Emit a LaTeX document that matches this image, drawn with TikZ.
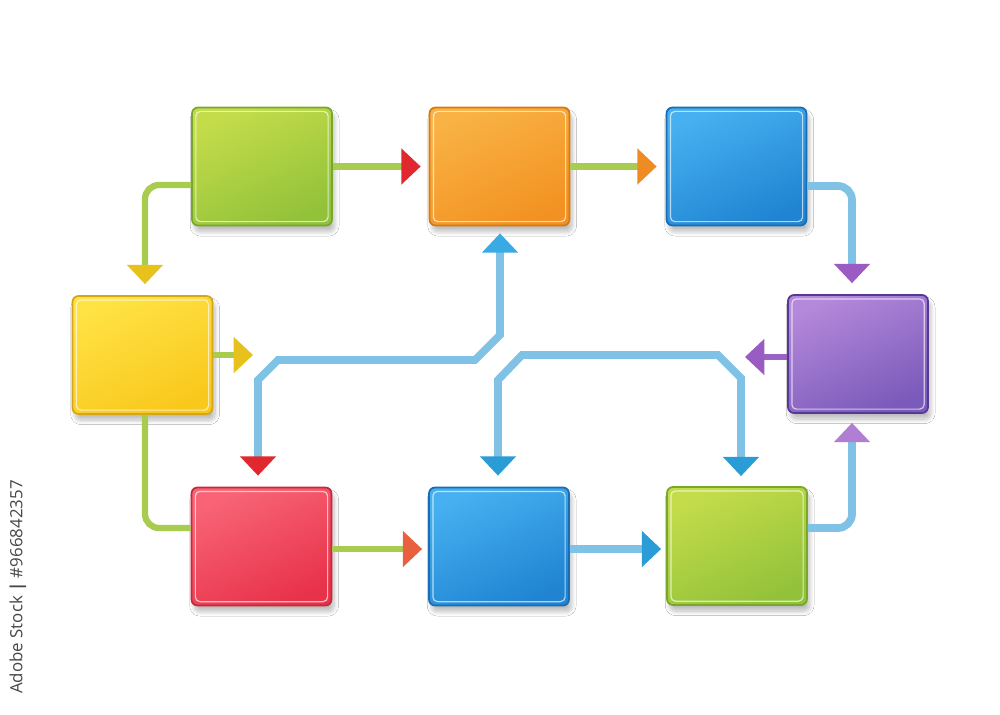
\documentclass[tikz,border=0pt]{standalone}
\usepackage{fontspec}
\newfontfamily\wmfont{Open Sans}
\usetikzlibrary{arrows.meta,calc,shadows.blur}
\definecolor{grA}{HTML}{C4DC4A}\definecolor{grB}{HTML}{92C23A}\definecolor{grD}{HTML}{78A82A}
\definecolor{orA}{HTML}{F9B244}\definecolor{orB}{HTML}{F29222}\definecolor{orD}{HTML}{D87810}
\definecolor{blA}{HTML}{46B0F0}\definecolor{blB}{HTML}{2084D2}\definecolor{blD}{HTML}{1A6CB4}
\definecolor{yeA}{HTML}{FFE244}\definecolor{yeB}{HTML}{F9C81C}\definecolor{yeD}{HTML}{D6A618}
\definecolor{puA}{HTML}{B488DA}\definecolor{puB}{HTML}{7A5ABA}\definecolor{puD}{HTML}{563896}
\definecolor{reA}{HTML}{F86476}\definecolor{reB}{HTML}{E8324A}\definecolor{reD}{HTML}{C42A3A}
\definecolor{glin}{HTML}{A8CC50}\definecolor{blin}{HTML}{80C2E6}\definecolor{plin}{HTML}{9A62C2}
\definecolor{tRed}{HTML}{E0282E}\definecolor{tOr}{HTML}{F08A22}\definecolor{tPu}{HTML}{9A5CC2}
\definecolor{tYe}{HTML}{E8C21C}\definecolor{tRo}{HTML}{E8603E}\definecolor{tBl}{HTML}{2A9CD6}
\definecolor{tBlL}{HTML}{3AAAE4}\definecolor{tPuL}{HTML}{B07ED2}
\tikzset{
  box/.style n args={3}{rounded corners=3.4pt, minimum width=2.8cm, minimum height=2.36cm,
    line width=1pt, draw=#3, top color=#1, bottom color=#2, shading angle=25,
    blur shadow={shadow xshift=1.5pt, shadow yshift=-3.5pt, shadow blur radius=2.5pt, shadow blur steps=10, shadow opacity=26},
    path picture={\draw[white, opacity=0.65, line width=0.7pt, rounded corners=2.6pt]
      ([shift={(2.2pt,-2.2pt)}]path picture bounding box.north west) rectangle
      ([shift={(-2.2pt,2.2pt)}]path picture bounding box.south east);}},
  gline/.style={draw=glin, line width=3.6pt},
  bline/.style={draw=blin, line width=4.4pt},
  pline/.style={draw=plin, line width=3.6pt},
  tip/.style={-{Triangle[length=11pt, width=20pt, color=#1]}},
  tips/.style 2 args={{Triangle[length=11pt, width=20pt, color=#1]}-{Triangle[length=11pt, width=20pt, color=#2]}},
}
\begin{document}
\begin{tikzpicture}[x=0.02cm, y=-0.02cm]
\useasboundingbox[fill=white] (0,0) rectangle (1000,714);
% boxes
\node[box={grA}{grB}{grD}] (g1) at (262,166.5) {};
\node[box={orA}{orB}{orD}] (or) at (499.5,166.5) {};
\node[box={blA}{blB}{blD}] (b1) at (736.5,166.5) {};
\node[box={yeA}{yeB}{yeD}] (ye) at (142.5,355) {};
\node[box={puA}{puB}{puD}] (pu) at (858,354) {};
\node[box={reA}{reB}{reD}] (re) at (261.5,546.5) {};
\node[box={blA}{blB}{blD}] (b2) at (499,546.5) {};
\node[box={grA}{grB}{grD}] (g2) at (737,546) {};
\coordinate (yend) at (253,355);
\coordinate (pend) at (745,357);
% connectors
\draw[gline, tip=tRed] (g1.east) -- ($(or.west)+(-8,0)$);
\draw[gline, tip=tOr] (or.east) -- ($(b1.west)+(-9,0)$);
\draw[bline, rounded corners=8pt, tip=tPu] ($(b1.east)+(0,19.5)$) -| ($(pu.north)+(-6,-11)$);
\draw[gline, rounded corners=8pt, tip=tYe] ($(g1.west)+(0,18.5)$) -| ($(ye.north)+(2.5,-11)$);
\draw[gline, tip=tYe] (ye.east) -- (yend);
\draw[gline, rounded corners=8pt] ($(ye.south)+(2.5,0)$) |- ($(re.west)+(0,-18.5)$);
\draw[gline, tip=tRo] ($(re.east)+(0,2.5)$) -- ($(b2.west)+(-6,2.5)$);
\draw[bline, tip=tBl] ($(b2.east)+(0,2.5)$) -- ($(g2.west)+(-5,3)$);
\draw[bline, rounded corners=8pt, tip=tPuL] ($(g2.east)+(0,-18)$) -| ($(pu.south)+(-6,9)$);
\draw[pline, tip=tPu] ($(pu.west)+(0,3)$) -- (pend);
\draw[bline, tips={tBlL}{tRed}] ($(or.south)+(0.5,7)$) -- (500,335) -- (475,360) -- (278,360) -- (258,380) -- ($(re.north)+(-3.5,-11)$);
\draw[bline, tips={tBl}{tBl}] ($(b2.north)+(-1,-11)$) -- (498,380) -- (522,355) -- (718,355) -- (741,378) -- ($(g2.north)+(4,-10)$);
% stock label
\node[rotate=90, font=\wmfont\fontsize{9.6pt}{11pt}\selectfont, text=black!72, anchor=center] (wm) at (18,587) {Adobe Stock \textbf{|} \#966842357};
\end{tikzpicture}
\end{document}
